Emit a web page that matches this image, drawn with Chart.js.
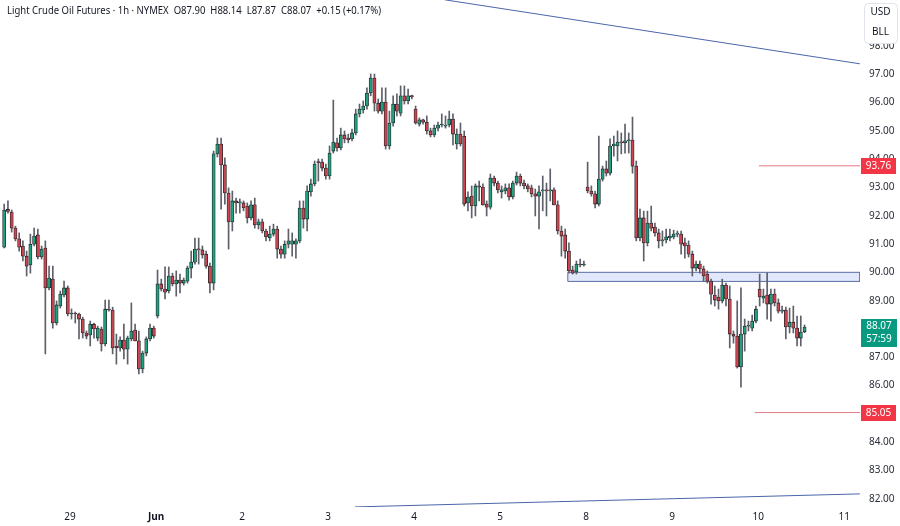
<!DOCTYPE html>
<html>
<head>
<meta charset="utf-8">
<script src="https://cdn.jsdelivr.net/npm/chart.js@4.4.1/dist/chart.umd.min.js"></script>
<style>
    html, body { margin: 0; padding: 0; background: #ffffff; }
    #wrap { width: 900px; height: 526px; position: relative; }
</style>
</head>
<body>
<div id="wrap"><canvas id="chart-1" width="900" height="526"></canvas></div>
<script>
// hourly candles (index 0 = first bar on the left)
const opens = [
    90.89, 92.22, 92.13, 91.56, 91.18, 90.93, 90.57, 90.26, 90.99, 91.32,
    90.54, 90.86, 89.45, 89.76, 88.21, 88.81, 89.20, 89.45, 88.53, 88.56,
    88.53, 88.35, 87.86, 87.79, 88.17, 87.68, 88.00, 87.47, 88.70, 88.67,
    87.40, 87.33, 87.61, 87.29, 87.65, 87.96, 87.58, 86.59, 87.15, 87.65,
    88.03, 88.46, 89.59, 89.41, 89.34, 89.87, 89.59, 89.73, 89.62, 89.69,
    90.15, 90.36, 90.82, 90.79, 90.64, 90.22, 89.62, 94.18, 94.53, 93.79,
    92.80, 91.78, 92.52, 92.45, 92.45, 92.34, 91.92, 92.38, 91.67, 91.78,
    91.46, 91.21, 91.35, 91.53, 90.82, 90.64, 90.99, 90.99, 90.99, 91.11,
    92.27, 91.88, 92.84, 93.12, 93.89, 93.89, 93.68, 93.40, 94.28, 94.57,
    94.39, 94.85, 94.74, 94.71, 94.92, 95.59, 95.73, 95.87, 96.33, 96.86,
    95.97, 95.69, 96.01, 94.46, 95.27, 95.94, 95.62, 96.23, 96.05, 96.23,
    95.76, 95.23, 95.38, 95.30, 94.99, 94.85, 95.09, 95.20, 95.16, 95.20,
    95.41, 94.53, 94.88, 94.80, 92.45, 92.69, 92.34, 93.05, 93.01, 92.41,
    92.30, 93.33, 93.15, 92.84, 92.87, 92.98, 92.66, 93.15, 93.40, 93.15,
    93.05, 92.98, 92.77, 92.69, 92.87, 92.91, 92.87, 92.91, 92.38, 91.46,
    91.32, 90.75, 90.08, 90.01, 90.29, 90.26, 93.01, 92.87, 92.77, 92.41,
    93.29, 93.65, 93.50, 94.46, 94.46, 94.60, 94.57, 94.64, 94.67, 93.75,
    91.21, 91.92, 91.04, 91.74, 91.60, 91.39, 91.11, 91.14, 91.21, 91.25,
    91.35, 91.35, 91.04, 90.96, 90.64, 90.15, 90.29, 90.12, 89.94, 89.69,
    89.20, 89.13, 88.99, 89.55, 89.06, 87.82, 87.75, 86.66, 87.82, 88.10,
    88.03, 88.28, 89.41, 89.09, 89.20, 88.88, 89.23, 88.92, 88.63, 88.67,
    88.07, 88.24, 88.03, 87.68, 87.90
];
const highs = [
    92.41, 92.52, 92.20, 91.63, 91.39, 91.11, 90.75, 91.35, 91.56, 91.53,
    90.93, 91.11, 90.22, 90.22, 88.99, 89.34, 89.69, 89.52, 88.71, 88.60,
    88.56, 88.42, 87.93, 88.28, 88.21, 88.10, 88.07, 89.02, 89.02, 88.77,
    87.82, 87.72, 88.17, 87.75, 88.92, 88.17, 87.93, 87.22, 87.72, 88.17,
    88.10, 90.08, 89.76, 90.19, 90.19, 89.97, 90.05, 89.94, 89.80, 90.22,
    90.75, 91.21, 91.21, 90.93, 90.75, 90.33, 94.28, 94.74, 94.74, 94.04,
    92.98, 92.87, 92.62, 92.59, 92.52, 92.45, 92.52, 92.62, 91.88, 91.88,
    91.53, 91.63, 91.70, 91.63, 90.93, 91.11, 91.53, 91.39, 91.18, 92.52,
    92.52, 93.05, 93.29, 93.93, 94.00, 94.00, 93.82, 94.46, 96.08, 94.74,
    95.09, 94.99, 94.88, 95.06, 95.76, 95.94, 96.05, 96.51, 97.00, 97.00,
    96.12, 96.51, 96.51, 95.69, 96.23, 96.30, 96.58, 96.58, 96.47, 96.26,
    95.87, 95.45, 95.41, 95.52, 95.09, 95.20, 95.30, 95.59, 95.52, 95.69,
    95.59, 95.06, 95.27, 94.99, 92.84, 93.05, 93.12, 93.22, 93.12, 92.52,
    93.47, 93.40, 93.22, 93.05, 93.12, 93.12, 93.22, 93.54, 93.47, 93.26,
    93.12, 93.08, 92.94, 93.05, 93.40, 93.15, 93.65, 92.98, 92.52, 91.63,
    91.53, 91.04, 90.22, 90.40, 90.47, 90.40, 93.89, 93.05, 92.87, 94.81,
    93.75, 93.93, 94.71, 94.81, 94.99, 94.92, 95.23, 94.92, 95.48, 93.93,
    92.23, 92.16, 92.16, 92.34, 91.74, 91.53, 91.46, 91.53, 91.53, 91.49,
    91.46, 91.46, 91.21, 91.11, 90.75, 90.40, 90.40, 90.22, 90.05, 89.76,
    89.52, 89.41, 89.76, 89.62, 89.52, 87.93, 88.99, 89.45, 88.35, 88.28,
    88.49, 88.81, 89.94, 89.41, 89.98, 89.41, 89.41, 89.06, 88.81, 88.77,
    88.74, 88.81, 88.46, 88.46, 88.14
];
const lows = [
    90.86, 92.09, 91.42, 91.11, 90.75, 90.40, 89.87, 89.97, 90.93, 90.47,
    90.47, 87.12, 89.38, 88.03, 88.14, 88.74, 89.13, 88.46, 88.35, 88.21,
    87.65, 87.68, 87.65, 87.40, 87.68, 87.58, 87.22, 87.40, 88.63, 87.12,
    86.76, 87.22, 86.94, 86.76, 87.58, 87.58, 86.41, 86.45, 87.05, 87.58,
    87.68, 88.39, 89.34, 89.06, 89.27, 89.52, 89.16, 89.27, 89.55, 89.62,
    89.80, 90.29, 90.29, 90.50, 90.15, 89.27, 89.38, 94.07, 92.23, 92.41,
    90.82, 91.46, 92.09, 92.09, 92.17, 91.74, 91.85, 91.56, 91.53, 91.39,
    91.11, 91.11, 91.28, 90.50, 90.50, 90.50, 90.86, 90.57, 90.50, 91.04,
    91.56, 91.46, 92.69, 93.05, 93.22, 93.58, 93.29, 93.29, 94.21, 94.28,
    94.32, 94.57, 94.57, 94.64, 94.85, 95.48, 95.62, 95.76, 96.23, 95.69,
    95.62, 95.59, 94.35, 94.35, 95.16, 95.52, 95.52, 95.94, 95.94, 96.12,
    95.23, 95.16, 95.23, 94.88, 94.78, 94.78, 94.99, 95.13, 95.09, 95.13,
    94.50, 94.35, 94.46, 92.34, 92.17, 91.92, 91.99, 92.52, 92.37, 91.99,
    92.23, 93.05, 92.80, 92.62, 92.77, 92.55, 92.59, 93.08, 93.05, 92.94,
    92.84, 92.66, 91.99, 91.53, 92.17, 91.99, 92.52, 92.38, 91.35, 90.57,
    90.50, 89.97, 89.94, 89.94, 90.19, 90.22, 92.80, 92.69, 92.27, 92.34,
    93.22, 93.40, 93.43, 94.10, 93.93, 94.18, 94.21, 94.21, 93.50, 91.11,
    91.11, 90.40, 90.93, 91.46, 91.28, 90.86, 90.93, 91.04, 91.11, 91.18,
    91.25, 90.64, 90.50, 90.54, 89.87, 90.05, 89.97, 89.69, 89.62, 88.88,
    88.81, 88.70, 88.92, 88.81, 87.33, 87.50, 86.62, 85.95, 87.22, 87.93,
    87.93, 88.21, 88.81, 88.92, 88.35, 88.28, 88.81, 88.56, 88.56, 87.65,
    87.86, 87.86, 87.40, 87.40, 87.87
];
const closes = [
    92.20, 92.15, 91.56, 91.18, 90.89, 90.57, 90.22, 90.99, 91.28, 90.54,
    90.82, 89.45, 89.80, 88.21, 88.85, 89.23, 89.45, 88.53, 88.56, 88.53,
    88.35, 87.86, 87.75, 88.17, 88.00, 88.03, 87.47, 88.70, 88.67, 87.33,
    87.33, 87.61, 87.29, 87.68, 87.93, 87.58, 86.59, 87.15, 87.65, 88.03,
    87.75, 89.59, 89.41, 89.30, 89.87, 89.59, 89.73, 89.62, 89.73, 90.15,
    90.36, 90.82, 90.79, 90.61, 90.22, 89.62, 94.18, 94.53, 93.79, 92.80,
    91.78, 92.52, 92.45, 92.45, 92.27, 91.92, 92.38, 91.67, 91.78, 91.46,
    91.25, 91.35, 91.53, 90.82, 90.64, 90.99, 91.11, 91.11, 91.11, 92.27,
    91.88, 92.87, 93.12, 93.82, 93.87, 93.68, 93.40, 94.21, 94.60, 94.39,
    94.85, 94.71, 94.67, 94.92, 95.59, 95.76, 95.87, 96.33, 96.86, 95.97,
    95.69, 96.01, 94.46, 95.27, 95.94, 95.69, 96.23, 96.05, 96.23, 96.20,
    95.27, 95.38, 95.30, 94.99, 94.85, 95.09, 95.20, 95.23, 95.20, 95.41,
    94.88, 94.88, 94.53, 92.41, 92.66, 92.34, 93.05, 93.01, 92.38, 92.30,
    93.33, 93.15, 92.91, 92.91, 92.98, 92.66, 93.15, 93.40, 93.15, 93.05,
    92.94, 92.77, 92.69, 92.84, 92.91, 92.87, 92.91, 92.38, 91.46, 91.28,
    90.75, 90.05, 89.97, 90.29, 90.26, 90.29, 92.87, 92.77, 92.41, 93.29,
    93.65, 93.50, 94.46, 94.53, 94.60, 94.57, 94.64, 94.67, 93.75, 91.21,
    91.92, 91.04, 91.74, 91.56, 91.39, 91.11, 91.14, 91.25, 91.28, 91.35,
    91.35, 90.99, 90.93, 90.64, 90.15, 90.29, 90.12, 89.87, 89.69, 89.23,
    89.02, 88.99, 89.55, 89.06, 87.82, 87.75, 86.66, 87.82, 88.10, 88.14,
    88.28, 88.70, 89.13, 89.16, 88.88, 89.23, 88.92, 88.63, 88.67, 88.07,
    88.24, 88.03, 87.68, 87.89, 88.07
];

// date labels on the time axis and the bar position where each one sits
const dayLabels = ['29', 'Jun', '2', '3', '4', '5', '8', '9', '10', '11'];
const dayPositions = [17.6, 40.6, 63.6, 86.6, 109.6, 132.6, 155.6, 178.6, 201.6, 224.6];
const priceTicks = [82, 83, 84, 85, 86, 87, 88, 89, 90, 91, 92, 93, 94, 95, 96, 97, 98, 99];

// drawings
const levelPrices = [93.76, 85.05];
const levelStarts = [201.8, 200.7];
const zoneTop = 90.00;
const zoneBottom = 89.68;
const zoneStart = 150.7;
const upperTrend = [{x: 117.8, y: 99.62}, {x: 228.8, y: 97.36}];
const lowerTrend = [{x: 93.8, y: 81.72}, {x: 228.8, y: 82.18}];

const lastPrice = 88.07;
const countdown = '57:59';
const title = 'Light Crude Oil Futures \u00b7 1h \u00b7 NYMEX  O87.90  H88.14  L87.87  C88.07  +0.15 (+0.17%)';

const xMin = -1.123, xMax = 228.83;
const yMin = 81.717, yMax = 99.612;

const upColor = '#21a07d';
const downColor = '#cd444e';
const fontFamily = '"Noto Sans", "Liberation Sans", sans-serif';

Chart.defaults.font.family = fontFamily;
Chart.defaults.color = '#2a2e39';

const idx = opens.map((_, i) => i);
const isUp = i => closes[i] >= opens[i];

// keep the plot flush with the canvas edges
function noPadding(s) {
    s.paddingTop = 0;
    s.paddingBottom = 0;
    s.paddingLeft = 0;
    s.paddingRight = 0;
}

const overlay = {
    id: 'overlay',
    afterDraw(chart) {
        const c = chart.ctx;
        const ys = chart.scales.y;
        const left = chart.chartArea.right + 1;
        c.save();

        c.font = '11px ' + fontFamily;
        c.fillStyle = '#131722';
        c.textBaseline = 'middle';
        c.textAlign = 'left';
        c.fillText(title, 7, 11, 374);

        c.font = '10px ' + fontFamily;
        c.textAlign = 'center';
        levelPrices.forEach(p => {
            const y = Math.round(ys.getPixelForValue(p));
            c.fillStyle = '#f23645';
            c.fillRect(left, y - 8, 35, 16);
            c.fillStyle = '#ffffff';
            c.fillText(p.toFixed(2), left + 17.5, y + 0.5);
        });

        const py = Math.round(ys.getPixelForValue(lastPrice));
        c.fillStyle = '#089981';
        c.fillRect(left, py - 8, 36, 28);
        c.fillStyle = '#ffffff';
        c.fillText(lastPrice.toFixed(2), left + 18, py - 1);
        c.fillText(countdown, left + 18, py + 12);

        // currency / unit box
        c.fillStyle = '#ffffff';
        c.strokeStyle = '#e0e3eb';
        c.lineWidth = 1;
        c.beginPath();
        c.roundRect(864.5, 3.5, 33, 40, 4);
        c.fill();
        c.stroke();
        c.fillStyle = '#131722';
        c.fillText('USD', 880.5, 12.5);
        c.fillText('BLL', 880.5, 32.5);
        c.restore();
    }
};

const ctx = document.getElementById('chart-1').getContext('2d');
new Chart(ctx, {
    type: 'bar',
    data: {
        datasets: [
            {
                label: 'body',
                data: idx.map(i => ({x: i, y: [opens[i], closes[i]]})),
                backgroundColor: c => isUp(c.dataIndex) ? upColor : downColor,
                borderColor: '#23262c',
                borderWidth: 0.8,
                borderSkipped: false,
                barThickness: 3.2,
                minBarLength: 1,
                grouped: false,
                order: 0
            },
            {
                label: 'wick',
                data: idx.map(i => ({x: i, y: [lows[i], highs[i]]})),
                backgroundColor: '#5d6069',
                barThickness: 1,
                grouped: false,
                order: 1
            },
            {
                type: 'line',
                label: 'zone',
                data: [
                    {x: zoneStart, y: zoneTop}, {x: xMax, y: zoneTop},
                    {x: xMax, y: zoneBottom}, {x: zoneStart, y: zoneBottom},
                    {x: zoneStart, y: zoneTop}
                ],
                fill: 'shape',
                backgroundColor: 'rgba(72, 110, 230, 0.16)',
                borderColor: '#5a6ea3',
                borderWidth: 1,
                pointRadius: 0,
                order: 2
            },
            {
                type: 'line',
                label: 'resistance',
                data: [{x: levelStarts[0], y: levelPrices[0]}, {x: xMax, y: levelPrices[0]}],
                borderColor: '#e57a80',
                borderWidth: 1,
                pointRadius: 0,
                order: 3
            },
            {
                type: 'line',
                label: 'support',
                data: [{x: levelStarts[1], y: levelPrices[1]}, {x: xMax, y: levelPrices[1]}],
                borderColor: '#e57a80',
                borderWidth: 1,
                pointRadius: 0,
                order: 3
            },
            {
                type: 'line',
                label: 'upper trend',
                data: upperTrend,
                borderColor: '#4a66a8',
                borderWidth: 1,
                pointRadius: 0,
                order: 3
            },
            {
                type: 'line',
                label: 'lower trend',
                data: lowerTrend,
                borderColor: '#4a66a8',
                borderWidth: 1,
                pointRadius: 0,
                order: 3
            }
        ]
    },
    options: {
        responsive: false,
        animation: false,
        devicePixelRatio: 1,
        layout: { padding: 0 },
        plugins: {
            legend: { display: false },
            tooltip: { enabled: false },
            title: { display: false }
        },
        scales: {
            x: {
                type: 'linear',
                min: xMin,
                max: xMax,
                offset: false,
                grid: { display: false, drawTicks: false },
                border: { display: false },
                afterFit: s => { s.height = 19; noPadding(s); },
                afterBuildTicks: s => { s.ticks = dayPositions.map(v => ({value: v})); },
                ticks: {
                    padding: 4,
                    maxRotation: 0,
                    autoSkip: false,
                    color: '#131722',
                    font: c => ({ size: 10, weight: dayLabels[c.index] === 'Jun' ? 'bold' : 'normal' }),
                    callback: (v, i) => dayLabels[i]
                }
            },
            y: {
                type: 'linear',
                position: 'right',
                min: yMin,
                max: yMax,
                grid: { display: false, drawTicks: false },
                border: { display: false },
                afterFit: s => { s.width = 40; noPadding(s); },
                afterBuildTicks: s => { s.ticks = priceTicks.map(v => ({value: v})); },
                ticks: {
                    padding: 9,
                    color: '#2a2e39',
                    font: { size: 10 },
                    callback: v => v.toFixed(2)
                }
            }
        }
    },
    plugins: [overlay]
});
</script>
</body>
</html>
